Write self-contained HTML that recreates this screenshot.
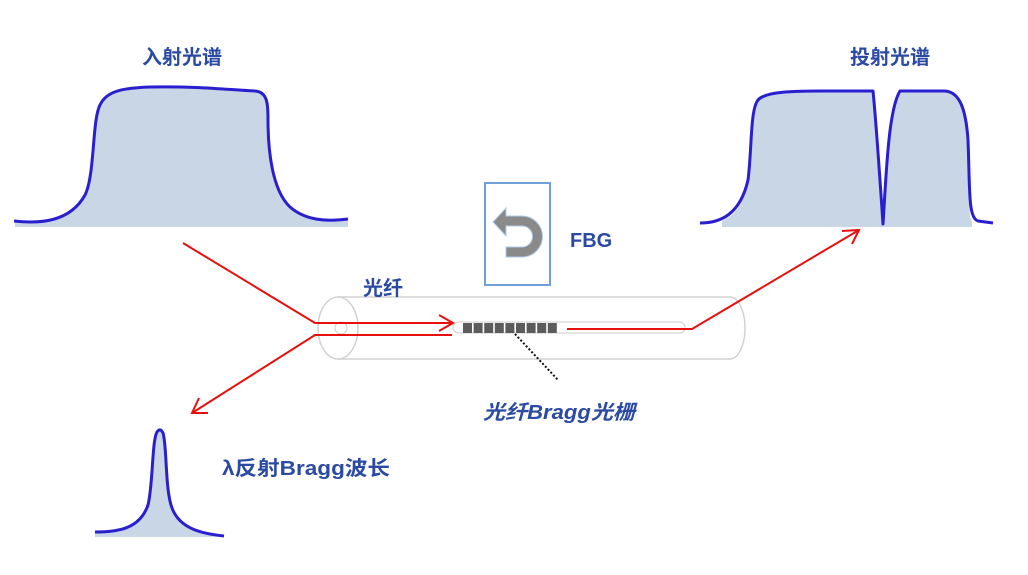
<!DOCTYPE html>
<html>
<head>
<meta charset="utf-8">
<style>
html,body{margin:0;padding:0;background:#fff;}
body{width:1028px;height:575px;overflow:hidden;}
svg{display:block;}
.t{font-family:"Liberation Sans","Noto Sans CJK SC",sans-serif;font-weight:bold;fill:#2b4aa3;}
</style>
</head>
<body>
<svg width="1028" height="575" viewBox="0 0 1028 575" xmlns="http://www.w3.org/2000/svg">
  <!-- Incident spectrum -->
  <path d="M15,227 L15,221 C40,224 70,222 85,195 C95,175 92,120 100,105 C106,92 120,88 150,87 C200,86 230,90 255,91 C268,92 268,105 268,120 C268,150 272,190 290,207 C305,220 325,222 348,219 L348,227 Z" fill="#c8d6e6"/>
  <path d="M14,221 C40,224 70,222 85,195 C95,175 92,120 100,105 C106,92 120,88 150,87 C200,86 230,90 255,91 C268,92 268,105 268,120 C268,150 272,190 290,207 C305,220 325,222 348,219" fill="none" stroke="#2a1fcf" stroke-width="3"/>
  <text class="t" x="182" y="64" font-size="20" text-anchor="middle">入射光谱</text>

  <!-- Transmitted spectrum -->
  <path d="M722,227 L722,221 C735,215 744,205 748,180 C752,150 750,110 758,100 C765,92 790,91 820,91 L873,91 C876,120 880,180 883,224 C886,180 888,110 900,91 L945,91 C960,92 966,110 968,140 C970,190 968,218 972,221 L972,227 Z" fill="#c8d6e6"/>
  <path d="M700,223 C720,223 740,215 748,180 C752,150 750,110 758,100 C765,92 790,91 820,91 L873,91 C876,120 880,180 883,224 C886,180 888,110 900,91 L945,91 C960,92 966,110 968,140 C970,190 968,218 978,221 L993,223" fill="none" stroke="#2a1fcf" stroke-width="3" stroke-linejoin="round"/>
  <text class="t" x="890" y="64" font-size="20" text-anchor="middle">投射光谱</text>

  <!-- Reflected peak -->
  <path d="M95,537 L95,532 C120,532 140,528 148,505 C153,485 152,440 157,432 C159,429 161,429 163,433 C167,445 165,490 172,508 C180,530 205,534 224,536 L224,537 Z" fill="#c8d6e6"/>
  <path d="M95,532 C120,532 140,528 148,505 C153,485 152,440 157,432 C159,429 161,429 163,433 C167,445 165,490 172,508 C180,530 205,534 224,536" fill="none" stroke="#2a1fcf" stroke-width="3"/>
  <text class="t" x="222" y="475" font-size="20" textLength="168" lengthAdjust="spacingAndGlyphs">λ反射Bragg波长</text>

  <!-- FBG box -->
  <rect x="485" y="183" width="65" height="102" fill="#fff" stroke="#6fa0d8" stroke-width="2"/>
  <path d="M506,216 L522,216 A20.5,20.5 0 0 1 522,257 L506,257 L506,247 L522,247 A10.5,10.5 0 0 0 522,226 L506,226 L506,236 L493,222 L506,208 Z" fill="#8a8a8a" stroke="#b0cbe8" stroke-width="1"/>
  <text class="t" x="570" y="247" font-size="20">FBG</text>

  <!-- Fiber tube -->
  <path d="M338,297 L730,297 A15,31 0 0 1 730,359 L338,359" fill="none" stroke="#d2d2d2" stroke-width="1.5"/>
  <ellipse cx="338" cy="328" rx="20" ry="31" fill="none" stroke="#d2d2d2" stroke-width="1.5"/>
  <circle cx="341" cy="328" r="6" fill="none" stroke="#d2d2d2" stroke-width="1.2"/>
  <rect x="453" y="322" width="232" height="11" rx="5.5" fill="#fff" stroke="#d5d5d5" stroke-width="1.2"/>
  <g fill="#5c5c5c">
    <rect x="463" y="323" width="9" height="10"/>
    <rect x="473.6" y="323" width="9" height="10"/>
    <rect x="484.2" y="323" width="9" height="10"/>
    <rect x="494.8" y="323" width="9" height="10"/>
    <rect x="505.4" y="323" width="9" height="10"/>
    <rect x="516" y="323" width="9" height="10"/>
    <rect x="526.6" y="323" width="9" height="10"/>
    <rect x="537.2" y="323" width="9" height="10"/>
    <rect x="547.8" y="323" width="9" height="10"/>
  </g>
  <text class="t" x="363" y="295" font-size="20">光纤</text>

  <!-- Dotted pointer -->
  <line x1="515" y1="334" x2="558" y2="380" stroke="#111" stroke-width="2" stroke-dasharray="2,2"/>
  <text class="t" x="483" y="419" font-size="20" font-style="italic" textLength="152" lengthAdjust="spacingAndGlyphs">光纤Bragg光栅</text>

  <!-- Red rays -->
  <g fill="none" stroke="#e8100f" stroke-width="2" stroke-linejoin="miter">
    <polyline points="183,243 315,323 453,323"/>
    <polyline points="439,315 453,323 439,331"/>
    <polyline points="452,335 315,335 192,413"/>
    <polyline points="199,398 192,413 208,413"/>
    <polyline points="567,329 692,329 859,230"/>
    <polyline points="842,231 859,230 852,244"/>
  </g>
</svg>
</body>
</html>
